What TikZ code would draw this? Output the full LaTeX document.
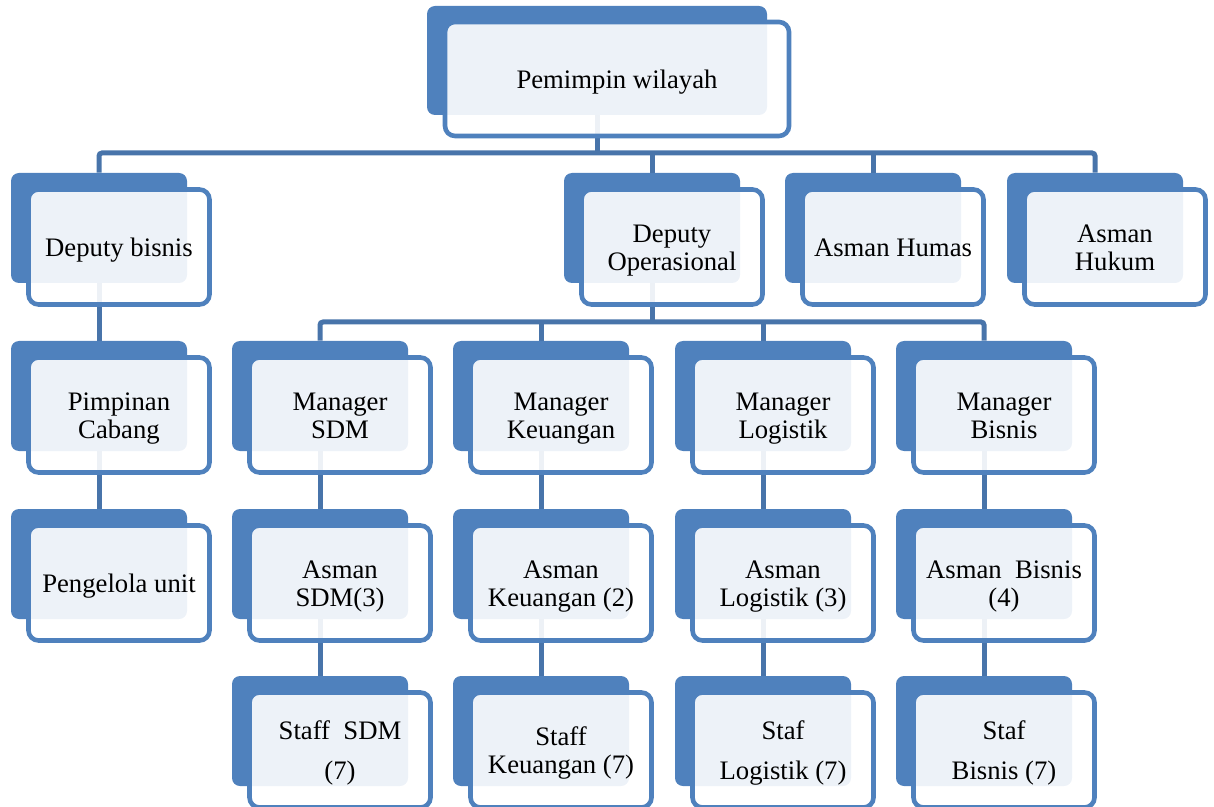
\documentclass[tikz,border=0pt]{standalone}
\usepackage{fontspec}
\setmainfont{Liberation Serif}
\usetikzlibrary{backgrounds}
\definecolor{boxblue}{HTML}{4F81BD}
\definecolor{linkblue}{HTML}{4874AA}

% text block of a card, set a little lower than the box centre
\newcommand{\cardtext}[1]{\raisebox{-2pt}[\height][\depth]{\begin{tabular}{@{}c@{}}#1\end{tabular}}}

% one unit: dark back card and light front card with the label
\newcommand{\orgunit}[4]{%
    \node[backbox] (#1) at (#2,#3) {};
    \node[frontbox] (#1f) at (#2+20,#3+19) {\cardtext{#4}};
}

\begin{document}
\begin{tikzpicture}[x=0.5pt, y=-0.5pt,
    backbox/.style={fill=boxblue, rounded corners=4pt, inner sep=0pt,
        minimum width=88pt, minimum height=55pt},
    frontbox/.style={draw=boxblue, line width=2.3pt, fill=white, fill opacity=0.9,
        text opacity=1, rounded corners=5pt, inner sep=0pt,
        minimum width=90.5pt, minimum height=57.5pt,
        font=\fontsize{13.35}{13.6}\selectfont},
    link/.style={draw=linkblue, line width=2.5pt, rounded corners=1.5pt}]
    \useasboundingbox (0,0) rectangle (1214,807);

    % Top
    \node[backbox, minimum width=170pt, minimum height=54.5pt] (pw) at (597,60.5) {};
    \node[frontbox, minimum width=172pt, minimum height=57pt] (pwf) at (617,79)
        {\cardtext{Pemimpin wilayah}};

    % Deputies and assistants
    \orgunit{db}{99}{228}{Deputy bisnis}
    \orgunit{do}{652}{228}{Deputy\\Operasional}
    \orgunit{ahm}{873}{228}{Asman Humas}
    \orgunit{ahk}{1095}{228}{Asman\\Hukum}

    % Managers
    \orgunit{pc}{99}{396}{Pimpinan\\Cabang}
    \orgunit{msdm}{320}{396}{Manager\\SDM}
    \orgunit{mkeu}{541}{396}{Manager\\Keuangan}
    \orgunit{mlog}{763}{396}{Manager\\Logistik}
    \orgunit{mbis}{984}{396}{Manager\\Bisnis}

    % Asman
    \orgunit{pu}{99}{564}{Pengelola unit}
    \orgunit{asdm}{320}{564}{Asman\\SDM(3)}
    \orgunit{akeu}{541}{564}{Asman\\Keuangan (2)}
    \orgunit{alog}{763}{564}{Asman\\Logistik (3)}
    \orgunit{abis}{984}{564}{Asman\ \ Bisnis\\(4)}

    % Staff
    \orgunit{ssdm}{320}{731}{Staff\ \ SDM\\[6pt](7)}
    \orgunit{skeu}{541}{731}{Staff\\Keuangan (7)}
    \orgunit{slog}{763}{731}{Staf\\[6pt]Logistik (7)}
    \orgunit{sbis}{984}{731}{Staf\\[6pt]Bisnis (7)}

    % Connectors
    \begin{pgfonlayer}{background}
        \coordinate (bus1) at (597,153);
        \coordinate (bus2) at (652,322);
        \draw[link] (pw) -- (bus1);
        \draw[link] (db) |- (bus1) -| (ahk);
        \draw[link] (do) -- (do |- bus1);
        \draw[link] (ahm) -- (ahm |- bus1);
        \draw[link] (do) -- (bus2);
        \draw[link] (msdm) |- (bus2) -| (mbis);
        \draw[link] (mkeu) -- (mkeu |- bus2);
        \draw[link] (mlog) -- (mlog |- bus2);
        \draw[link] (db) -- (pc) -- (pu);
        \draw[link] (msdm) -- (asdm) -- (ssdm);
        \draw[link] (mkeu) -- (akeu) -- (skeu);
        \draw[link] (mlog) -- (alog) -- (slog);
        \draw[link] (mbis) -- (abis) -- (sbis);
    \end{pgfonlayer}
\end{tikzpicture}
\end{document}
